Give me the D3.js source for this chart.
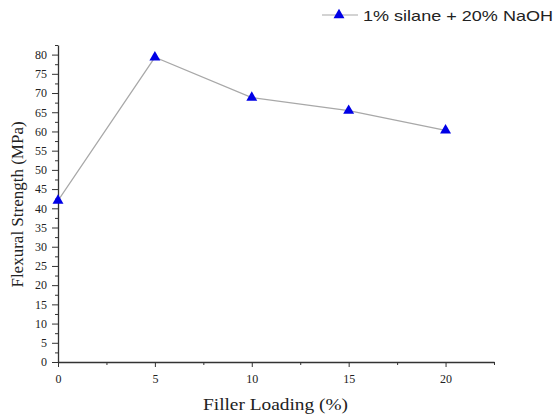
<!DOCTYPE html>
<html>
<head>
<meta charset="utf-8">
<script src="https://cdn.jsdelivr.net/npm/d3@7"></script>
<style>
  body { margin: 0; background: #fff; }
  .tick text { font-family: "Liberation Serif", "Times New Roman", serif; font-size: 12px; fill: #222; }
  .axis path, .axis line { stroke: #333; }
</style>
</head>
<body>
<div id="chart"></div>
<script>
// data
var loading = [0, 5, 10, 15, 20];
var strength = [42, 79.3, 68.8, 65.4, 60.3];
var seriesName = "1% silane + 20% NaOH";
var xTicks = [0, 5, 10, 15, 20];
var yTicks = [0, 5, 10, 15, 20, 25, 30, 35, 40, 45, 50, 55, 60, 65, 70, 75, 80];

var W = 558, H = 414;
var margin = {top: 45, right: 64, bottom: 52, left: 58};
var width = W - margin.left - margin.right,
    height = H - margin.top - margin.bottom;

var svg = d3.select("#chart").append("svg")
    .attr("width", W)
    .attr("height", H);

var g = svg.append("g")
    .attr("transform", "translate(" + margin.left + "," + margin.top + ")");

var x = d3.scaleLinear().domain([0, 22.5]).range([0, width]);
var y = d3.scaleLinear().domain([0, 82.5]).range([height, 0]);

// minor ticks first (no labels)
g.append("g")
    .attr("class", "axis")
    .attr("transform", "translate(0," + height + ")")
    .call(d3.axisBottom(x).tickValues(d3.range(2.5, 22.6, 5)).tickSize(3).tickFormat(""))
    .select(".domain").remove();
g.append("g")
    .attr("class", "axis")
    .call(d3.axisLeft(y).tickValues(d3.range(2.5, 82.6, 5)).tickSize(3).tickFormat(""))
    .select(".domain").remove();

// major axes
g.append("g")
    .attr("class", "axis")
    .attr("transform", "translate(0," + height + ")")
    .call(d3.axisBottom(x).tickValues(xTicks).tickSize(5).tickSizeOuter(0).tickPadding(7));
g.append("g")
    .attr("class", "axis")
    .call(d3.axisLeft(y).tickValues(yTicks).tickSize(6).tickSizeOuter(0).tickPadding(5));

g.selectAll(".axis path").attr("stroke-width", 1.3);

// line
var pts = loading.map(function(d, i) { return {x: d, y: strength[i]}; });
g.append("path")
    .datum(pts)
    .attr("fill", "none")
    .attr("stroke", "#a8a8a8")
    .attr("stroke-width", 1.2)
    .attr("d", d3.line()
      .x(function(d) { return x(d.x); })
      .y(function(d) { return y(d.y); }));

var tri = d3.symbol().type(d3.symbolTriangle).size(52);
g.selectAll(".pt")
    .data(pts)
    .enter().append("path")
    .attr("class", "pt")
    .attr("d", tri)
    .attr("fill", "#0000e6")
    .attr("transform", function(d) { return "translate(" + x(d.x) + "," + y(d.y) + ")"; });

// axis titles
svg.append("text")
    .attr("x", 203)
    .attr("y", 410)
    .attr("textLength", 145)
    .attr("lengthAdjust", "spacingAndGlyphs")
    .style("font-family", "'Liberation Serif', serif")
    .style("font-size", "16px")
    .attr("fill", "#222")
    .text("Filler Loading (%)");

svg.append("text")
    .attr("transform", "translate(23," + (margin.top + y(41)) + ") rotate(-90)")
    .attr("text-anchor", "middle")
    .style("font-family", "'Liberation Serif', serif")
    .style("font-size", "17px")
    .attr("fill", "#222")
    .text("Flexural Strength (MPa)");

// legend
var leg = svg.append("g").attr("transform", "translate(322,15)");
leg.append("line").attr("x1", 0).attr("x2", 36).attr("y1", 0).attr("y2", 0)
    .attr("stroke", "#a8a8a8").attr("stroke-width", 1.2);
leg.append("path").attr("d", tri).attr("fill", "#0000e6").attr("transform", "translate(17,0)");
leg.append("text")
    .attr("x", 41).attr("y", 5.5)
    .attr("textLength", 190)
    .attr("lengthAdjust", "spacingAndGlyphs")
    .style("font-family", "'Liberation Sans', Arial, sans-serif")
    .style("font-size", "15px")
    .attr("fill", "#222")
    .text(seriesName);
</script>
</body>
</html>
